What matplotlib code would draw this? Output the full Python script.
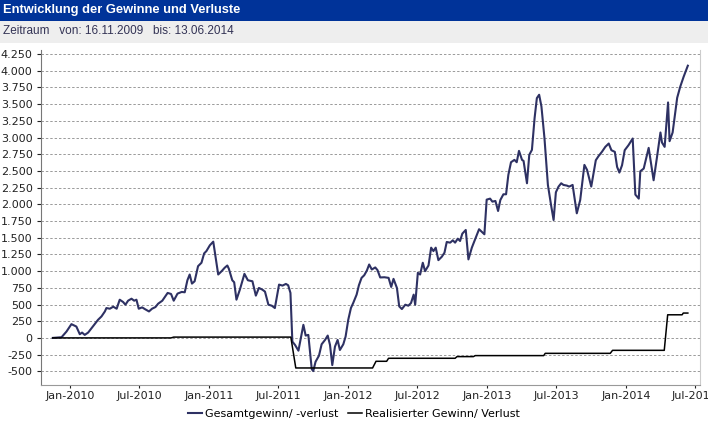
import matplotlib
matplotlib.use("Agg")
import matplotlib.pyplot as plt
import matplotlib.dates as mdates
from matplotlib.ticker import FuncFormatter
from matplotlib.patches import Rectangle
from matplotlib.lines import Line2D
import pandas as pd

title = "Entwicklung der Gewinne und Verluste"
subtitle = "Zeitraum   von: 16.11.2009   bis: 13.06.2014"
series_names = ["Gesamtgewinn/ -verlust", "Realisierter Gewinn/ Verlust"]

total_dates = [
    "2009-11-16", "2009-12-09", "2009-12-22", "2010-01-04", "2010-01-17", "2010-01-26",
    "2010-02-01", "2010-02-08", "2010-02-17", "2010-02-26", "2010-03-06", "2010-03-15",
    "2010-03-24", "2010-04-02", "2010-04-06", "2010-04-15", "2010-04-24", "2010-05-03",
    "2010-05-11", "2010-05-20", "2010-05-26", "2010-06-02", "2010-06-11", "2010-06-18",
    "2010-06-24", "2010-06-30", "2010-07-09", "2010-07-16", "2010-07-27", "2010-08-04",
    "2010-08-13", "2010-08-20", "2010-08-31", "2010-09-14", "2010-09-23", "2010-09-30",
    "2010-10-10", "2010-10-21", "2010-10-29", "2010-11-05", "2010-11-11", "2010-11-17",
    "2010-11-24", "2010-12-03", "2010-12-12", "2010-12-19", "2010-12-25", "2011-01-03",
    "2011-01-12", "2011-01-25", "2011-02-03", "2011-02-11", "2011-02-18", "2011-02-22",
    "2011-03-03", "2011-03-08", "2011-03-14", "2011-03-23", "2011-04-04", "2011-04-13",
    "2011-04-25", "2011-05-04", "2011-05-12", "2011-05-21", "2011-05-28", "2011-06-06",
    "2011-06-15", "2011-06-23", "2011-07-04", "2011-07-13", "2011-07-22", "2011-07-28",
    "2011-08-03", "2011-08-08", "2011-08-15", "2011-08-24", "2011-09-06", "2011-09-12",
    "2011-09-19", "2011-09-28", "2011-10-02", "2011-10-08", "2011-10-17", "2011-10-24",
    "2011-11-02", "2011-11-09", "2011-11-15", "2011-11-21", "2011-11-28", "2011-12-05",
    "2011-12-11", "2011-12-20", "2011-12-26", "2012-01-02", "2012-01-09", "2012-01-15",
    "2012-01-24", "2012-01-30", "2012-02-06", "2012-02-13", "2012-02-20", "2012-02-26",
    "2012-03-04", "2012-03-13", "2012-03-19", "2012-03-26", "2012-04-06", "2012-04-17",
    "2012-04-24", "2012-04-30", "2012-05-09", "2012-05-15", "2012-05-22", "2012-05-31",
    "2012-06-08", "2012-06-15", "2012-06-22", "2012-06-26", "2012-07-03", "2012-07-09",
    "2012-07-16", "2012-07-22", "2012-07-31", "2012-08-07", "2012-08-13", "2012-08-19",
    "2012-08-26", "2012-09-04", "2012-09-11", "2012-09-17", "2012-09-26", "2012-10-03",
    "2012-10-09", "2012-10-16", "2012-10-22", "2012-10-28", "2012-11-06", "2012-11-13",
    "2012-11-22", "2012-11-30", "2012-12-11", "2012-12-20", "2012-12-25", "2012-12-31",
    "2013-01-09", "2013-01-15", "2013-01-23", "2013-01-30", "2013-02-05", "2013-02-13",
    "2013-02-20", "2013-02-26", "2013-03-05", "2013-03-14", "2013-03-20", "2013-03-26",
    "2013-04-03", "2013-04-07", "2013-04-16", "2013-04-22", "2013-04-29", "2013-05-06",
    "2013-05-12", "2013-05-18", "2013-05-24", "2013-06-01", "2013-06-10", "2013-06-19",
    "2013-06-25", "2013-07-01", "2013-07-08", "2013-07-15", "2013-07-21", "2013-07-30",
    "2013-08-05", "2013-08-14", "2013-08-25", "2013-09-03", "2013-09-14", "2013-09-21",
    "2013-10-02", "2013-10-14", "2013-10-21", "2013-10-30", "2013-11-08", "2013-11-17",
    "2013-11-24", "2013-12-03", "2013-12-09", "2013-12-15", "2013-12-22", "2013-12-29",
    "2014-01-08", "2014-01-19", "2014-01-26", "2014-02-04", "2014-02-08", "2014-02-17",
    "2014-03-02", "2014-03-15", "2014-03-24", "2014-04-02", "2014-04-06", "2014-04-13",
    "2014-04-22", "2014-04-26", "2014-05-04", "2014-05-16", "2014-05-24", "2014-06-02",
    "2014-06-13",
]
total_values = [
    0, 10, 95, 206, 170, 55,
    80, 45, 80, 146, 206, 271,
    321, 396, 447, 437, 467, 437,
    572, 537, 497, 557, 587, 557,
    572, 437, 457, 432, 396, 437,
    462, 512, 557, 673, 658, 557,
    663, 688, 683, 863, 949, 813,
    848, 1074, 1125, 1265, 1300, 1386,
    1441, 949, 999, 1050, 1084, 1035,
    863, 833, 572, 723, 959, 863,
    848, 633, 748, 723, 693, 497,
    482, 447, 798, 783, 808, 788,
    673, -55, -105, -191, 196, 35,
    45, -467, -497, -357, -266, -95,
    -30, 35, -105, -407, -131, -30,
    -181, -95, 20, 271, 447, 522,
    648, 788, 899, 938, 1009, 1099,
    1024, 1055, 1014, 905, 908, 899,
    763, 884, 748, 472, 432, 497,
    482, 522, 648, 497, 974, 949,
    1125, 999, 1084, 1351, 1300, 1351,
    1164, 1215, 1275, 1436, 1426, 1461,
    1426, 1486, 1451, 1561, 1616, 1175,
    1351, 1466, 1627, 1577, 1551, 2070,
    2085, 2040, 2050, 1900, 2065, 2150,
    2150, 2440, 2630, 2665, 2630, 2800,
    2665, 2650, 2315, 2740, 2815, 3290,
    3590, 3640, 3465, 2990, 2290, 1965,
    1765, 2180, 2265, 2315, 2290, 2280,
    2265, 2290, 1865, 2065, 2590, 2515,
    2265, 2660, 2720, 2785, 2860, 2910,
    2810, 2785, 2560, 2475, 2585, 2810,
    2885, 2985, 2145, 2085, 2495, 2535,
    2845, 2360, 2710, 3075, 2925, 2860,
    3525, 2945, 3075, 3595, 3760, 3910,
    4075,
]

realized_dates = [
    "2009-11-16", "2010-09-23", "2010-09-30", "2011-08-04", "2011-08-17",
    "2012-03-06", "2012-03-15", "2012-04-12", "2012-04-17", "2012-10-09",
    "2012-10-14", "2012-11-26", "2012-12-01", "2013-05-30", "2013-06-03",
    "2013-11-21", "2013-11-27", "2014-04-12", "2014-04-21", "2014-05-29",
    "2014-06-01", "2014-06-13",
]
realized_values = [
    0, 0, 12, 12, -450,
    -450, -350, -350, -305, -305,
    -280, -280, -265, -265, -231,
    -231, -186, -186, 346, 346,
    372, 372,
]

y_ticks = list(range(-500, 4251, 250))
x_limits = ("2009-10-16", "2014-07-15")
y_limits = (-705, 4310)

W, H = 708, 426
fig = plt.figure(figsize=(W / 100, H / 100), dpi=100)
fig.patch.set_facecolor("white")

# header bands
fig.add_artist(Rectangle((0, 1 - 21 / H), 1, 21 / H, transform=fig.transFigure,
                         facecolor="#003399", edgecolor="none", zorder=0))
fig.add_artist(Rectangle((0, 1 - 43 / H), 1, 22 / H, transform=fig.transFigure,
                         facecolor="#eeeeee", edgecolor="none", zorder=0))
fig.text(3 / W, 1 - 10.5 / H, title, color="white", fontsize=9.3, fontweight="bold",
         family="Liberation Sans", va="center", ha="left")
fig.text(3 / W, 1 - 31.5 / H, subtitle, color="#333355", fontsize=8.5,
         family="Liberation Sans", va="center", ha="left")

ax = fig.add_axes([41 / W, (H - 385) / H, (700 - 41) / W, (385 - 50) / H])
ax.set_facecolor("white")

td = pd.to_datetime(total_dates)
rd = pd.to_datetime(realized_dates)
ax.plot(td, total_values, color="#2e3163", lw=1.5, zorder=3)
ax.plot(rd, realized_values, color="black", lw=1.1, zorder=3)

ax.set_xlim(pd.Timestamp(x_limits[0]), pd.Timestamp(x_limits[1]))
ax.set_ylim(*y_limits)
ax.set_yticks(y_ticks)
ax.yaxis.set_major_formatter(FuncFormatter(lambda v, p: f"{int(v):,}".replace(",", ".")))
ax.xaxis.set_major_locator(mdates.MonthLocator(bymonth=[1, 7]))
ax.xaxis.set_major_formatter(mdates.DateFormatter("%b-%Y"))

ax.grid(axis="y", color="#9a9a9a", lw=0.7, linestyle=(0, (2.5, 2)))
ax.set_axisbelow(True)
ax.tick_params(axis="both", labelsize=8, colors="#222222", length=3, width=0.8, pad=3)
ax.tick_params(axis="x", length=2, pad=2)
ax.spines["top"].set_visible(False)
ax.spines["left"].set_color("#777777")
ax.spines["bottom"].set_color("#999999")
ax.spines["right"].set_color("#cccccc")

handles = [Line2D([], [], color="#2e3163", lw=1.5), Line2D([], [], color="black", lw=1.1)]
fig.legend(handles, series_names, loc="center", bbox_to_anchor=(0.5, 12 / H),
           ncol=2, frameon=False, fontsize=8, handlelength=1.3, handletextpad=0.3,
           columnspacing=0.8)

fig.savefig("out.png", dpi=100)
